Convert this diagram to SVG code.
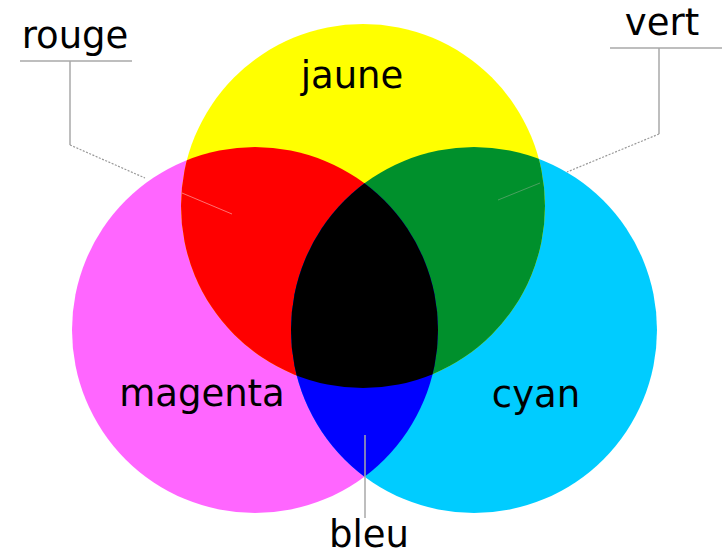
<svg xmlns="http://www.w3.org/2000/svg" width="723" height="557" viewBox="0 0 723 557">
<style>
.lbl{font-family:"DejaVu Sans","Liberation Sans",sans-serif;font-size:37px;fill:#000;text-anchor:middle}
.lead{fill:none;stroke:#a8a8a8;stroke-width:1.5}
.dot{fill:none;stroke:#999;stroke-width:1.2;stroke-dasharray:2 1.5}
</style>
<defs>
<clipPath id="cY"><circle cx="363" cy="206" r="182"/></clipPath>
<clipPath id="cM"><circle cx="255" cy="330" r="183"/></clipPath>
<clipPath id="cYM"><circle cx="255" cy="330" r="183" clip-path="url(#cY)"/></clipPath>
</defs>
<rect width="723" height="557" fill="#fff"/>
<g id="connectors">
<polyline class="lead" points="20,61 132,61"/>
<polyline class="lead" points="70,61 70,145"/>
<line class="dot" x1="70" y1="145" x2="145" y2="178"/>
<polyline class="lead" points="610,48 722,48"/>
<polyline class="lead" points="659,48 659,134"/>
<line class="dot" x1="659" y1="134" x2="567" y2="172"/>
</g>
<g id="magenta"><circle cx="255" cy="330" r="183" fill="#ff66ff"/></g>
<g id="cyan"><circle cx="474" cy="330" r="183" fill="#00ccff"/></g>
<g id="jaune"><circle cx="363" cy="206" r="182" fill="#ffff00"/></g>
<g id="rouge"><circle cx="255" cy="330" r="183" fill="#ff0000" clip-path="url(#cY)"/></g>
<g id="vert"><circle cx="474" cy="330" r="183" fill="#00902c" clip-path="url(#cY)"/></g>
<g id="bleu"><circle cx="474" cy="330" r="183" fill="#0000ff" clip-path="url(#cM)"/></g>
<g id="noir"><circle cx="474" cy="330" r="183" fill="#000000" clip-path="url(#cYM)"/></g>
<g id="connectors-inner">
<line x1="182" y1="193" x2="232" y2="214" stroke="#ff7070" stroke-width="1"/>
<line x1="540" y1="183" x2="498" y2="200" stroke="#4aa060" stroke-width="1"/>
<line x1="365" y1="435" x2="365" y2="518" stroke="#a8a8a8" stroke-width="1.5"/>
</g>
<g id="labels">
<text class="lbl" x="352" y="88">jaune</text>
<text class="lbl" x="202" y="406">magenta</text>
<text class="lbl" x="536" y="407">cyan</text>
<text class="lbl" x="369" y="547">bleu</text>
<text class="lbl" x="75" y="48">rouge</text>
<text class="lbl" x="662" y="35">vert</text>
</g>
</svg>
